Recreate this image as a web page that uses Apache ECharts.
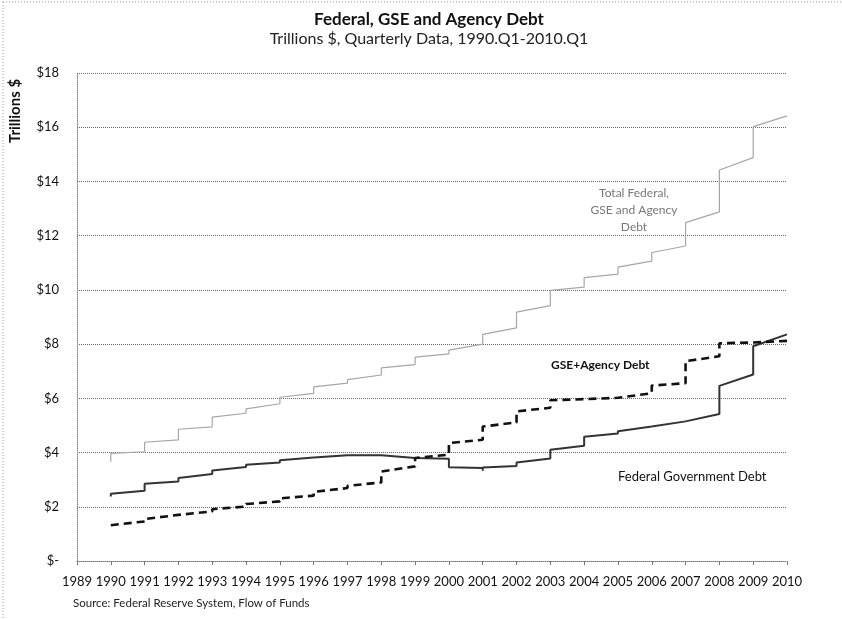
<html><head>
<meta charset="utf-8">
<title>Federal, GSE and Agency Debt</title>
<script src="https://cdn.jsdelivr.net/npm/echarts@6/dist/echarts.min.js"></script>
<style>
  html, body { margin: 0; padding: 0; background: #fff; }
  #main { width: 842px; height: 619px; }
</style>
</head>
<body>
<div id="main"></div>
<script>
// quarterly data, 1990.Q1 - 2010.Q1 (trillions $)
// the source chart uses a yearly date axis: all four quarters of a year sit on the same x
var firstYear = 1990;
var yearTicks = [1989, 2010];

var totalDebt = [
  3.66, 3.78, 3.88, 3.97,   4.03, 4.15, 4.27, 4.38,   4.47, 4.60, 4.73, 4.86,
  4.95, 5.07, 5.19, 5.31,   5.45, 5.53, 5.61, 5.68,   5.80, 5.88, 5.96, 6.04,
  6.18, 6.26, 6.34, 6.42,   6.56, 6.62, 6.69, 6.75,   6.86, 6.95, 7.04, 7.12,
  7.24, 7.33, 7.43, 7.52,   7.64, 7.71, 7.78, 7.84,   8.00, 8.12, 8.24, 8.36,
  8.60, 8.79, 8.98, 9.18,   9.42, 9.61, 9.80, 9.98,   10.10, 10.22, 10.34, 10.45,
  10.58, 10.67, 10.75, 10.84, 11.06, 11.17, 11.27, 11.38, 11.62, 11.91, 12.19, 12.48,
  12.88, 13.40, 13.91, 14.42, 14.88, 15.26, 15.64, 16.02, 16.42
];

var federalDebt = [
  2.38, 2.43, 2.48, 2.52,   2.59, 2.68, 2.77, 2.85,   2.93, 2.99, 3.06, 3.12,
  3.21, 3.27, 3.34, 3.40,   3.47, 3.50, 3.52, 3.55,   3.63, 3.66, 3.69, 3.72,
  3.82, 3.83, 3.85, 3.86,   3.90, 3.91, 3.92, 3.91,   3.90, 3.88, 3.86, 3.84,
  3.80, 3.80, 3.79, 3.79,   3.77, 3.66, 3.56, 3.46,   3.43, 3.33, 3.40, 3.45,
  3.50, 3.57, 3.63, 3.70,   3.78, 3.89, 3.99, 4.10,   4.25, 4.36, 4.47, 4.58,
  4.70, 4.75, 4.79, 4.84,   4.96, 4.98, 5.00, 5.02,   5.15, 5.17, 5.18, 5.20,
  5.42, 5.77, 6.12, 6.46,   6.88, 7.23, 7.58, 7.92,   8.36
];

var gseDebt = [
  1.32, 1.34, 1.36, 1.38,   1.46, 1.51, 1.55, 1.60,   1.70, 1.72, 1.74, 1.76,
  1.83, 1.87, 1.91, 1.95,   2.01, 2.06, 2.10, 2.15,   2.20, 2.26, 2.31, 2.37,
  2.41, 2.48, 2.55, 2.62,   2.69, 2.72, 2.74, 2.77,   2.90, 3.03, 3.17, 3.30,
  3.49, 3.59, 3.70, 3.80,   3.92, 4.06, 4.21, 4.35,   4.47, 4.63, 4.80, 4.96,
  5.11, 5.25, 5.38, 5.52,   5.65, 5.74, 5.84, 5.93,   5.97, 5.97, 5.98, 5.98,
  6.02, 6.04, 6.05, 6.07,   6.19, 6.28, 6.38, 6.47,   6.56, 6.83, 7.10, 7.37,
  7.55, 7.71, 7.87, 8.03,   8.06, 8.07, 8.07, 8.08,   8.12
];

// quarter i -> its year on the x axis
function toPairs(arr) {
  var out = [];
  for (var i = 0; i < arr.length; i++) out.push([firstYear + Math.floor(i / 4), arr[i]]);
  return out;
}

var FONT = 'Lato';
var myChart = echarts.init(document.getElementById('main'));

var option = {
  backgroundColor: '#fff',
  animation: false,
  textStyle: { fontFamily: FONT },
  title: {
    text: 'Federal, GSE and Agency Debt',
    subtext: 'Trillions $, Quarterly Data, 1990.Q1-2010.Q1',
    left: 424, top: 6, textAlign: 'center',
    textStyle: { fontFamily: FONT, fontSize: 17, fontWeight: 'bold', color: '#111' },
    subtextStyle: { fontFamily: FONT, fontSize: 16, color: '#222' },
    itemGap: 3
  },
  grid: { left: 77, right: 55, top: 73, bottom: 58 },
  xAxis: {
    type: 'value',
    min: yearTicks[0], max: yearTicks[1], interval: 1,
    axisLine: { lineStyle: { color: '#777', type: 'dotted' } },
    axisTick: { show: true, length: 4, lineStyle: { color: '#777' } },
    splitLine: { show: false },
    axisLabel: {
      margin: 14, fontSize: 13, color: '#111', fontFamily: FONT,
      formatter: function (v) { return String(v); }
    }
  },
  yAxis: {
    type: 'value',
    min: 0, max: 18, interval: 2,
    axisLine: { show: true, lineStyle: { color: '#888', type: 'dotted' } },
    axisTick: { show: false },
    splitLine: { lineStyle: { color: '#666', type: 'dotted', width: 1 } },
    axisLabel: {
      margin: 18, fontSize: 13, color: '#111', fontFamily: FONT,
      formatter: function (v) { return v === 0 ? '$-' : '$' + v; }
    }
  },
  series: [
    {
      name: 'Total Federal, GSE and Agency Debt',
      type: 'line', showSymbol: false,
      data: toPairs(totalDebt),
      lineStyle: { color: '#a6a6a6', width: 1.2 }
    },
    {
      name: 'Federal Government Debt',
      type: 'line', showSymbol: false,
      data: toPairs(federalDebt),
      lineStyle: { color: '#333', width: 2 }
    },
    {
      name: 'GSE+Agency Debt',
      type: 'line', showSymbol: false,
      data: toPairs(gseDebt),
      lineStyle: { color: '#111', width: 2.6, type: [8, 5] }
    }
  ],
  graphic: [
    { type: 'line', shape: { x1: 3, y1: 2, x2: 842, y2: 2 }, style: { stroke: '#999', lineDash: [1, 2] } },
    { type: 'line', shape: { x1: 3, y1: 2, x2: 3, y2: 619 }, style: { stroke: '#999', lineDash: [1, 2] } },
    { type: 'text', x: 15, y: 111, rotation: Math.PI / 2,
      style: { text: 'Trillions $', align: 'center', verticalAlign: 'middle', fill: '#111', font: 'bold 15px ' + FONT } },
    { type: 'text', x: 634, y: 185,
      style: { text: 'Total Federal,\nGSE and Agency\nDebt', align: 'center', verticalAlign: 'top', fill: '#777', font: '12px ' + FONT, lineHeight: 17 } },
    { type: 'text', left: 551, top: 359, style: { text: 'GSE+Agency Debt', fill: '#111', font: 'bold 12px ' + FONT } },
    { type: 'text', left: 618, top: 470, style: { text: 'Federal Government Debt', fill: '#111', font: '13px ' + FONT } },
    { type: 'text', left: 73, top: 597, style: { text: 'Source: Federal Reserve System, Flow of Funds', fill: '#222', font: '11.5px ' + FONT } }
  ]
};

myChart.setOption(option);
</script>
</body>
</html>
